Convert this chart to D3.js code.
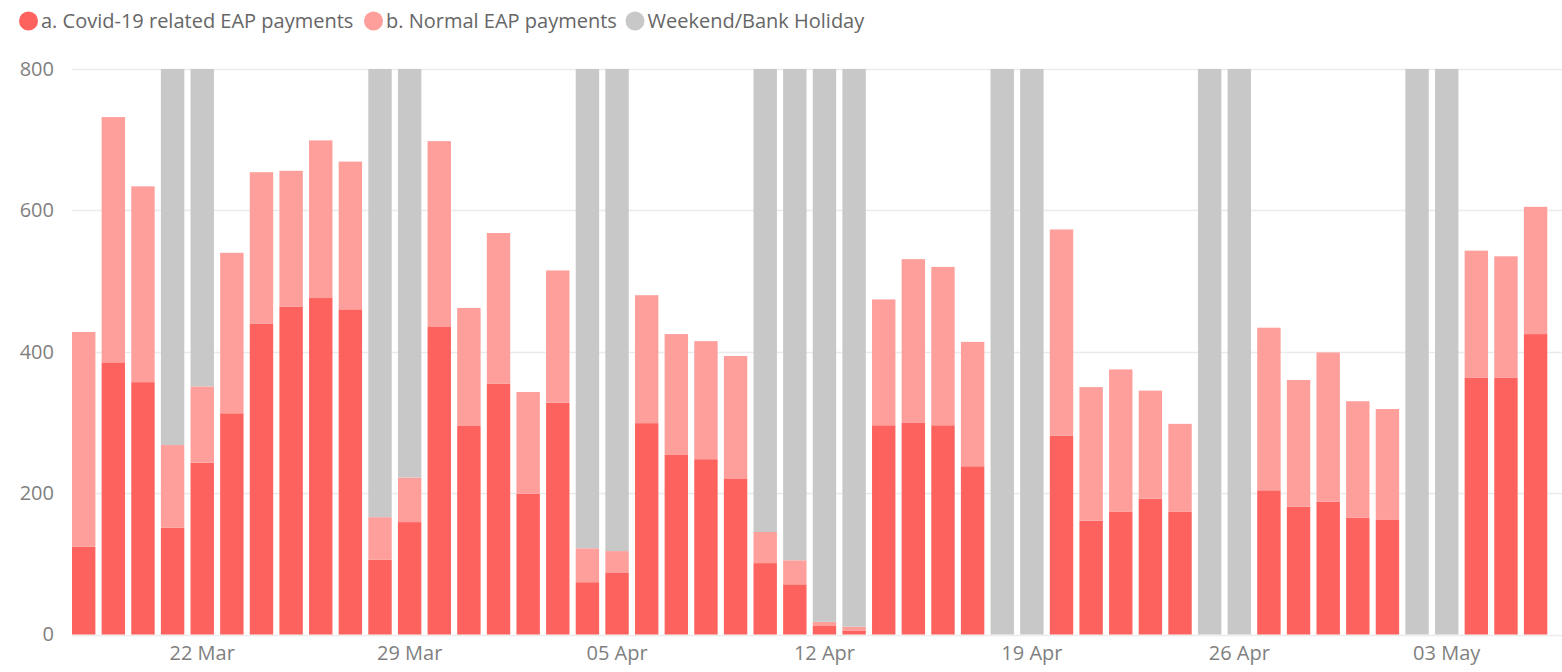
<!DOCTYPE html>
<html>
<head>
<meta charset="utf-8">
<script src="https://cdn.jsdelivr.net/npm/d3@7"></script>
<style>
  html, body { margin: 0; padding: 0; background: #fff; }
  svg { display: block; font-family: "Segoe UI", "Open Sans", sans-serif; }
</style>
</head>
<body>
<svg id="chart" width="1562" height="672"></svg>
<script>
// ---- data ----
const dates = [
  "2020-03-18","2020-03-19","2020-03-20","2020-03-21","2020-03-22","2020-03-23","2020-03-24","2020-03-25","2020-03-26","2020-03-27",
  "2020-03-28","2020-03-29","2020-03-30","2020-03-31","2020-04-01","2020-04-02","2020-04-03","2020-04-04","2020-04-05","2020-04-06",
  "2020-04-07","2020-04-08","2020-04-09","2020-04-10","2020-04-11","2020-04-12","2020-04-13","2020-04-14","2020-04-15","2020-04-16",
  "2020-04-17","2020-04-18","2020-04-19","2020-04-20","2020-04-21","2020-04-22","2020-04-23","2020-04-24","2020-04-25","2020-04-26",
  "2020-04-27","2020-04-28","2020-04-29","2020-04-30","2020-05-01","2020-05-02","2020-05-03","2020-05-04","2020-05-05","2020-05-06"
];
const covidPayments = [
  124,385,357,151,243,313,440,464,476,460,
  106,159,435,295,355,199,328,74,87,299,
  254,248,220,101,71,12,5,296,300,296,
  238,0,0,281,161,174,192,174,0,0,
  204,181,188,165,162,0,0,363,363,425
];
const normalPayments = [
  304,347,277,117,108,227,214,192,223,209,
  60,63,263,167,213,144,187,48,31,181,
  171,167,174,44,34,6,6,178,231,224,
  176,0,0,292,189,201,153,124,0,0,
  230,179,211,165,157,0,0,180,172,180
];
const holidayValues = [
  0,0,0,532,449,0,0,0,0,0,
  634,578,0,0,0,0,0,678,682,0,
  0,0,0,655,695,782,789,0,0,0,
  0,800,800,0,0,0,0,0,800,800,
  0,0,0,0,0,800,800,0,0,0
];
const tickDates = ["2020-03-22","2020-03-29","2020-04-05","2020-04-12","2020-04-19","2020-04-26","2020-05-03"];
const yTicks = [0, 200, 400, 600, 800];
const seriesNames = ["a. Covid-19 related EAP payments", "b. Normal EAP payments", "Weekend/Bank Holiday"];
const seriesColors = ["#FD625E", "#FE9F9C", "#C8C8C8"];

// ---- build table ----
const keys = ["covid", "normal", "holiday"];
const rows = dates.map((d, i) => ({
  date: d, covid: covidPayments[i], normal: normalPayments[i], holiday: holidayValues[i]
}));
const stacked = d3.stack().keys(keys)(rows);

const svg = d3.select("#chart");
const x = d3.scaleBand().domain(dates).range([72, 1547.3]).paddingInner(0.21).paddingOuter(0);
const y = d3.scaleLinear().domain([0, 800]).range([634.5, 69]);

// gridlines
svg.append("g").selectAll("line").data(yTicks).join("line")
  .attr("x1", 72).attr("x2", 1562)
  .attr("y1", d => Math.round(y(d)) + 0.5).attr("y2", d => Math.round(y(d)) + 0.5)
  .attr("stroke", "#ebebeb").attr("stroke-width", 1.5);

// y axis labels
const yAxis = svg.append("g").attr("transform", "translate(54,0)")
  .call(d3.axisLeft(y).tickValues(yTicks).tickSize(0).tickPadding(0));
yAxis.select(".domain").remove();
yAxis.selectAll("text").attr("fill", "#7f7f7f").attr("font-size", 20)
  .attr("font-family", "\"Segoe UI\", \"Open Sans\", sans-serif");

// bars
const colorOf = d3.scaleOrdinal().domain(keys).range(seriesColors);
svg.append("g").selectAll("g").data(stacked).join("g")
  .attr("fill", s => colorOf(s.key))
  .selectAll("rect").data(s => s).join("rect")
  .attr("x", d => x(d.data.date))
  .attr("width", x.bandwidth())
  .attr("y", d => y(d[1]))
  .attr("height", d => Math.max(0, y(d[0]) - y(d[1])));

// x axis
const parse = d3.timeParse("%Y-%m-%d");
const fmt = d3.timeFormat("%d %b");
const xAxis = svg.append("g").attr("transform", "translate(0,646)")
  .call(d3.axisBottom(x).tickValues(tickDates).tickFormat(d => fmt(parse(d))).tickSize(0).tickPadding(0));
xAxis.select(".domain").remove();
xAxis.selectAll("text").attr("fill", "#7f7f7f").attr("font-size", 20).attr("dy", "0.71em")
  .attr("font-family", "\"Segoe UI\", \"Open Sans\", sans-serif");

// legend
const legendX = [28.5, 373.5, 635];
const legend = svg.append("g");
seriesNames.forEach((name, i) => {
  legend.append("circle").attr("cx", legendX[i]).attr("cy", 21).attr("r", 9.5).attr("fill", seriesColors[i]);
  legend.append("text").attr("x", legendX[i] + 12.5).attr("y", 21).attr("dy", "0.35em")
    .attr("font-size", 20).attr("fill", "#666").text(name);
});
</script>
</body>
</html>
